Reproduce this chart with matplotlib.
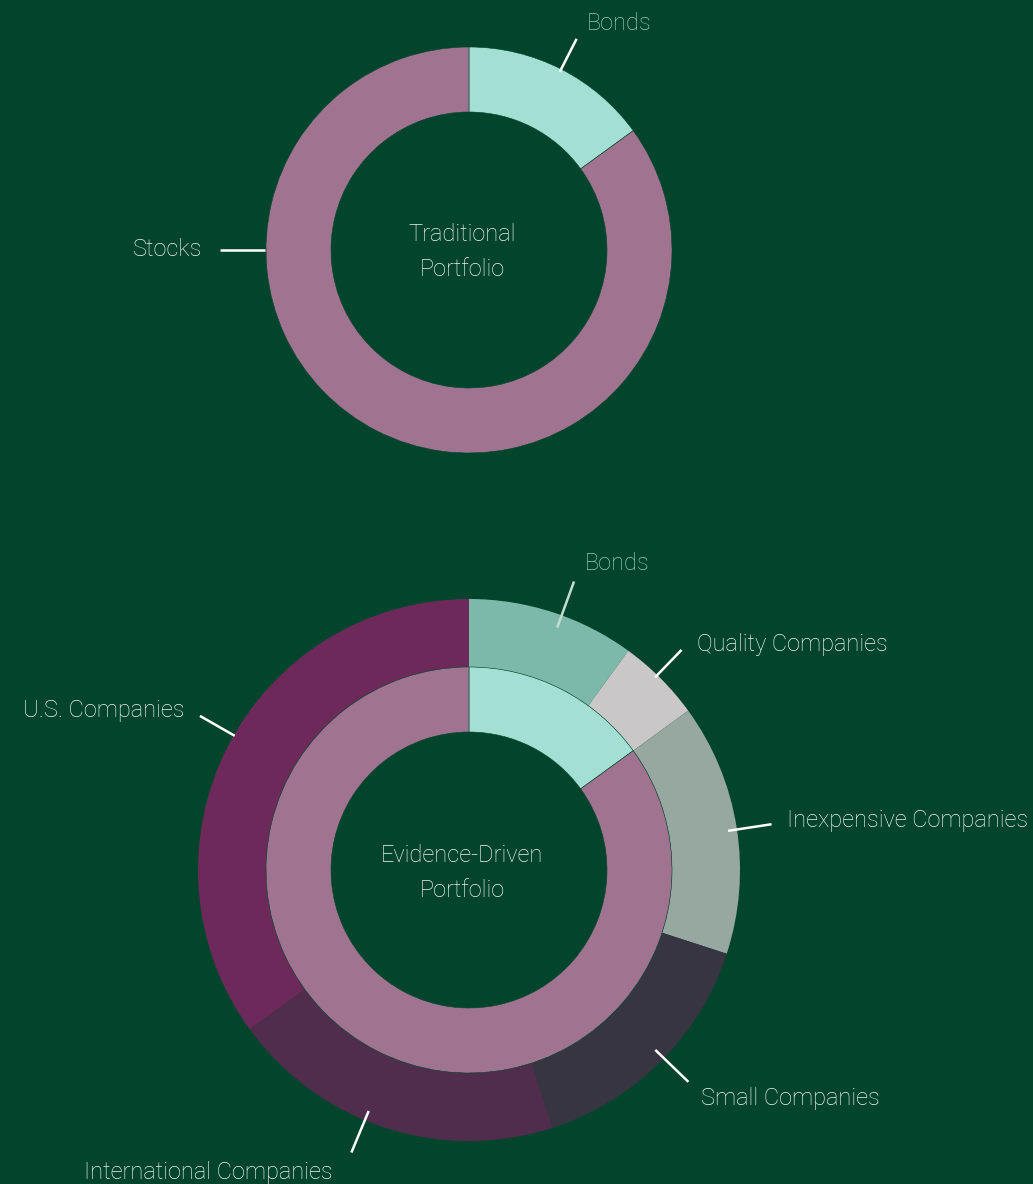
import numpy as np
import matplotlib
matplotlib.use("Agg")
import matplotlib.pyplot as plt

# ---------------- data ----------------
trad_labels = ["Bonds", "Stocks"]
trad_values = [15, 85]

inner_labels = ["Bonds", "Stocks"]
inner_values = [15, 85]

outer_labels = ["Bonds", "Quality Companies", "Inexpensive Companies",
                "Small Companies", "International Companies", "U.S. Companies"]
outer_values = [10, 5, 15, 15, 20, 35]

# ---------------- style ----------------
BG = "#03452C"
TXT = "#EEF3EF"
BOND_TXT = "#8ED0B3"
trad_colors = ["#A4DFD3", "#A07390"]
outer_colors = ["#7DB9AA", "#C9C7C8", "#97A8A1", "#383542", "#512D4D", "#6D295A"]

W, H = 1033, 1184
plt.rcParams['font.family'] = ['Roboto', 'DejaVu Sans']
FS = 17

fig = plt.figure(figsize=(W / 100, H / 100), dpi=100, facecolor=BG)
ax = fig.add_axes([0, 0, 1, 1])
ax.set_facecolor(BG)

def Y(y):
    return H - y

top_c = (469, Y(250))
bot_c = (469, Y(870))

# top donut
ax.pie(trad_values, colors=trad_colors, center=top_c, radius=203,
       startangle=90, counterclock=False,
       wedgeprops=dict(width=65, edgecolor=BG, linewidth=0.4))

# bottom donut: outer ring + inner ring
ax.pie(outer_values, colors=outer_colors, center=bot_c, radius=271,
       startangle=90, counterclock=False,
       wedgeprops=dict(width=68, edgecolor="none", linewidth=0))
ax.pie(inner_values, colors=trad_colors, center=bot_c, radius=203,
       startangle=90, counterclock=False,
       wedgeprops=dict(width=65, edgecolor=BG, linewidth=0.4))

ax.set_xlim(0, W)
ax.set_ylim(0, H)
ax.set_aspect('equal')
ax.axis('off')

def leader(c, ang, r0, r1, color="white"):
    a = np.deg2rad(ang)
    ax.plot([c[0] + r0 * np.cos(a), c[0] + r1 * np.cos(a)],
            [c[1] + r0 * np.sin(a), c[1] + r1 * np.sin(a)],
            color=color, lw=1.8, solid_capstyle='butt')

# top labels (angle, r0, r1, text x, text y, text colour, line colour)
top_lab = [(63, 200, 237, 587, 23, BOND_TXT, "white"),
           (180, 204, 249, 133, 249, TXT, "white")]
for lab, (ang, r0, r1, tx, ty, tc, lc) in zip(trad_labels, top_lab):
    leader(top_c, ang, r0, r1, lc)
    ax.text(tx, Y(ty), lab, color=tc, fontsize=FS, fontweight='light',
            ha='left', va='center')

ax.text(462, Y(252), "Traditional\nPortfolio", color=TXT, fontsize=FS,
        fontweight='light', ha='center', va='center', linespacing=1.62)

# bottom labels
bot_lab = [(70, 258, 307, 585, 564, BOND_TXT, "#C4DCD2"),
           (46, 268, 306, 697, 644, TXT, "white"),
           (8.6, 262, 306, 787, 821, TXT, "white"),
           (-44, 259, 305, 701, 1098, TXT, "white"),
           (-112.6, 261, 306, 84, 1172, TXT, "white"),
           (150.2, 270, 310, 23, 711, TXT, "white")]
for lab, (ang, r0, r1, tx, ty, tc, lc) in zip(outer_labels, bot_lab):
    leader(bot_c, ang, r0, r1, lc)
    ax.text(tx, Y(ty), lab, color=tc, fontsize=FS, fontweight='light',
            ha='left', va='center')

ax.text(462, Y(873), "Evidence-Driven\nPortfolio", color=TXT, fontsize=FS,
        fontweight='light', ha='center', va='center', linespacing=1.62)

fig.savefig("out.png", dpi=100, facecolor=BG)
